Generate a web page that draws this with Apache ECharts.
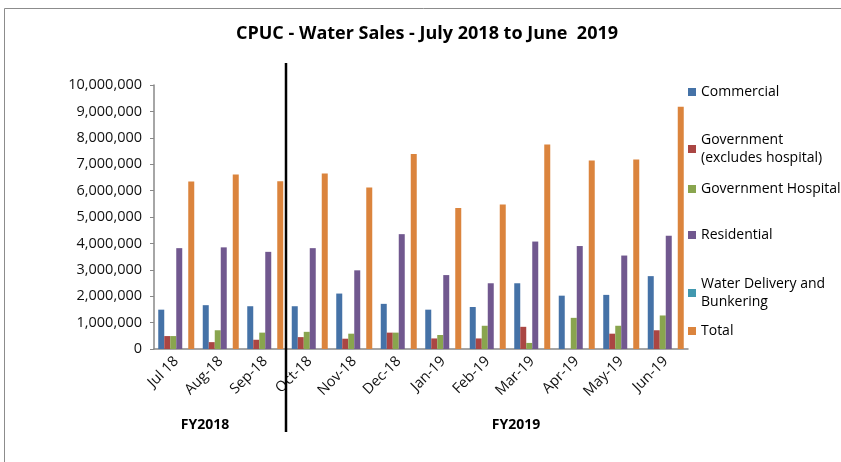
<!DOCTYPE html>
<html>
<head>
<meta charset="utf-8">
<title>CPUC - Water Sales</title>
<script src="https://cdn.jsdelivr.net/npm/echarts@6/dist/echarts.min.js"></script>
<style>
  html, body { margin: 0; padding: 0; background: #fff; }
  #chart { width: 841px; height: 462px; }
</style>
</head>
<body>
<div id="chart"></div>
<script>
const months = ["Jul 18", "Aug-18", "Sep-18", "Oct-18", "Nov-18", "Dec-18",
  "Jan-19", "Feb-19", "Mar-19", "Apr-19", "May-19", "Jun-19"]

const commercial = [1490000, 1660000, 1620000, 1620000, 2100000, 1710000,
  1490000, 1590000, 2490000, 2020000, 2050000, 2760000]
const government = [490000, 260000, 350000, 450000, 390000, 620000,
  400000, 400000, 840000, 0, 580000, 710000]
const govHospital = [490000, 710000, 620000, 650000, 580000, 620000,
  530000, 880000, 230000, 1180000, 880000, 1270000]
const residential = [3820000, 3850000, 3680000, 3820000, 2980000, 4350000,
  2800000, 2490000, 4070000, 3900000, 3540000, 4290000]
const waterDelivery = [0, 0, 0, 0, 0, 0, 0, 0, 0, 0, 0, 0]
const total = [6340000, 6610000, 6350000, 6650000, 6120000, 7390000,
  5340000, 5470000, 7750000, 7140000, 7180000, 9180000]

const yTicks = [0, 10000000, 1000000]  // min, max, interval

const FONT = "'Open Sans', sans-serif"

const seriesDefs = [
  { name: "Commercial", data: commercial, color: "#4572A7", label: "Commercial", top: 78 },
  { name: "Government (excludes hospital)", data: government, color: "#AA4643", label: "Government\n(excludes hospital)", top: 117, pad: true },
  { name: "Government Hospital", data: govHospital, color: "#89A54E", label: "Government Hospital", top: 175 },
  { name: "Residential", data: residential, color: "#71588F", label: "Residential", top: 221 },
  { name: "Water Delivery and Bunkering", data: waterDelivery, color: "#4198AF", label: "Water Delivery and\nBunkering", top: 261, pad: true },
  { name: "Total", data: total, color: "#DB843D", label: "Total", top: 317 },
]

function numFmt(v) {
  return v.toString().replace(/\B(?=(\d{3})+(?!\d))/g, ",")
}

const chart = echarts.init(document.getElementById("chart"))

chart.setOption({
  animation: false,
  backgroundColor: "#fff",
  textStyle: { fontFamily: FONT },
  title: {
    text: "CPUC - Water Sales - July 2018 to June  2019",
    left: 422,
    textAlign: "center",
    top: 20,
    textStyle: { fontFamily: FONT, fontSize: 18, fontWeight: "bold", color: "#000" },
  },
  // one legend per entry so the uneven spacing of the original can be kept
  legend: seriesDefs.map(s => ({
    data: [s.name],
    left: 683,
    top: s.top,
    icon: "rect",
    itemWidth: 8,
    itemHeight: 8,
    itemGap: 0,
    formatter: () => s.label,
    textStyle: {
      fontFamily: FONT,
      fontSize: 14,
      color: "#000",
      lineHeight: 18,
      padding: s.pad ? [18, 0, 0, 0] : 0,
    },
    selectedMode: false,
  })),
  grid: { left: 154, right: 153, top: 85, bottom: 113 },
  xAxis: {
    type: "category",
    data: months,
    axisLine: { lineStyle: { color: "#888", width: 1.5 } },
    axisTick: { show: false },
    axisLabel: {
      rotate: 45,
      interval: 0,
      margin: 10,
      fontFamily: FONT,
      fontSize: 14.5,
      color: "#111",
    },
  },
  yAxis: {
    type: "value",
    min: yTicks[0],
    max: yTicks[1],
    interval: yTicks[2],
    splitLine: { show: false },
    axisLine: { show: true, lineStyle: { color: "#888", width: 1.5 } },
    axisTick: { show: true, length: 4, lineStyle: { color: "#888" } },
    axisLabel: {
      margin: 12,
      fontFamily: FONT,
      fontSize: 14.5,
      color: "#111",
      formatter: numFmt,
    },
  },
  series: seriesDefs.map(s => ({
    name: s.name,
    type: "bar",
    data: s.data,
    barWidth: 6,
    barGap: "0%",
    itemStyle: { color: s.color },
  })),
  graphic: [
    // outer chart frame, cut off at right and bottom like the screenshot
    {
      type: "rect",
      shape: { x: 4.5, y: 8.5, width: 900, height: 600 },
      style: { fill: "none", stroke: "#8c8c8c", lineWidth: 1 },
      silent: true,
    },
    // separator between fiscal years
    {
      type: "line",
      shape: { x1: 286, y1: 63, x2: 286, y2: 432 },
      style: { stroke: "#000", lineWidth: 2.5 },
      z: 10,
      silent: true,
    },
    {
      type: "text",
      x: 205, y: 425,
      style: { text: "FY2018", fontFamily: FONT, fontSize: 14, fontWeight: "bold",
        fill: "#000", textAlign: "center", textVerticalAlign: "middle" },
    },
    {
      type: "text",
      x: 516, y: 425,
      style: { text: "FY2019", fontFamily: FONT, fontSize: 14, fontWeight: "bold",
        fill: "#000", textAlign: "center", textVerticalAlign: "middle" },
    },
  ],
})
</script>
</body>
</html>
